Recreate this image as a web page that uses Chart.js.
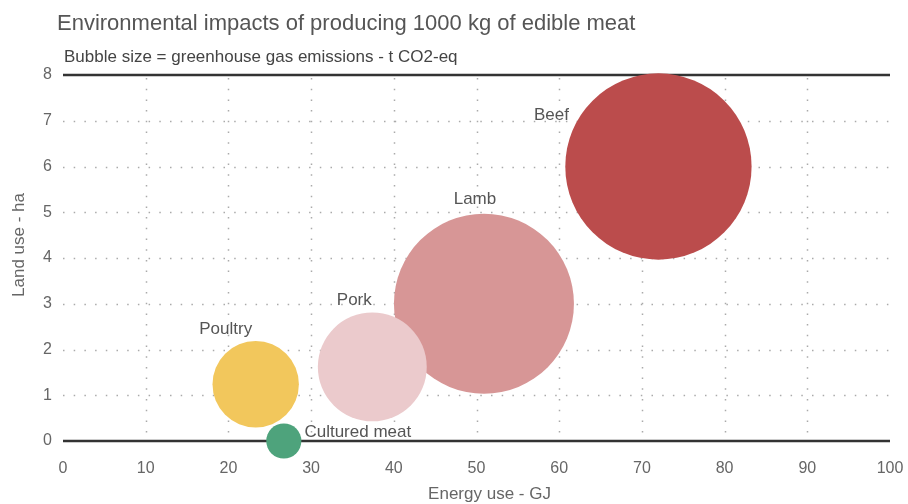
<!DOCTYPE html>
<html>
<head>
<meta charset="utf-8">
<title>Environmental impacts of producing 1000 kg of edible meat</title>
<script src="https://cdn.jsdelivr.net/npm/chart.js@4"></script>
<style>
  html, body { margin: 0; padding: 0; background: #fff; }
  #wrap { width: 908px; height: 504px; position: relative; }
</style>
</head>
<body>
<div id="wrap"><canvas id="chart"></canvas></div>
<script>
// Data
const meats = ['Beef', 'Lamb', 'Pork', 'Poultry', 'Cultured meat'];
const energyUse = [72.0, 50.9, 37.4, 23.3, 26.7];   // GJ
const landUse = [6.0, 3.0, 1.62, 1.24, 0.0];        // ha
const ghgEmissions = [20.7, 20.0, 12.1, 9.6, 3.9];  // t CO2-eq (bubble size)
const xTicks = [0, 10, 20, 30, 40, 50, 60, 70, 80, 90, 100];
const yTicks = [0, 1, 2, 3, 4, 5, 6, 7, 8];

const colors = ['#bb4c4c', '#d79696', '#ebcacc', '#f2c75c', '#4ea37c'];
// label offsets from bubble centre (px)
const labelOffsets = [[-107, -51], [-9, -104], [-18, -67], [-30, -55], [74, -9]];
const radiusPerTonne = 4.5;

const FONT = '"Liberation Sans", Arial, sans-serif';

// Dotted grid and solid frame lines, drawn under the bubbles
const gridPlugin = {
    id: 'dottedGrid',
    beforeDatasetsDraw(chart) {
        const { ctx, chartArea, scales } = chart;
        ctx.save();
        ctx.strokeStyle = '#aaa';
        ctx.lineWidth = 1.5;
        ctx.setLineDash([1.5, 9.2]);
        yTicks.forEach(v => {
            if (v === 0 || v === 8) return;
            const y = Math.round(scales.y.getPixelForValue(v)) + 0.5;
            ctx.beginPath();
            ctx.moveTo(chartArea.left, y);
            ctx.lineTo(chartArea.right, y);
            ctx.stroke();
        });
        xTicks.forEach(v => {
            if (v === 0 || v === 100) return;
            const x = Math.round(scales.x.getPixelForValue(v)) + 0.5;
            ctx.beginPath();
            ctx.moveTo(x, chartArea.top + 3);
            ctx.lineTo(x, chartArea.bottom);
            ctx.stroke();
        });
        ctx.setLineDash([]);
        ctx.strokeStyle = '#333';
        ctx.lineWidth = 2.5;
        [0, 8].forEach(v => {
            const y = scales.y.getPixelForValue(v);
            ctx.beginPath();
            ctx.moveTo(chartArea.left, y);
            ctx.lineTo(chartArea.right, y);
            ctx.stroke();
        });
        ctx.restore();
    }
};

// Titles, axis titles and bubble labels
const textPlugin = {
    id: 'texts',
    afterDatasetsDraw(chart) {
        const { ctx, chartArea } = chart;
        ctx.save();
        ctx.textBaseline = 'middle';

        ctx.fillStyle = '#555';
        ctx.textAlign = 'left';
        ctx.font = '22px ' + FONT;
        ctx.fillText('Environmental impacts of producing 1000 kg of edible meat', 57, 24);
        ctx.fillStyle = '#444';
        ctx.font = '17px ' + FONT;
        ctx.fillText('Bubble size = greenhouse gas emissions - t CO2-eq', 64, 57);

        ctx.fillStyle = '#666';
        ctx.textAlign = 'center';
        ctx.fillText('Energy use - GJ', chartArea.left + chartArea.width / 2 + 13, 494);
        ctx.save();
        ctx.translate(19, chartArea.top + chartArea.height / 2 - 13);
        ctx.rotate(-Math.PI / 2);
        ctx.fillText('Land use - ha', 0, 0);
        ctx.restore();

        ctx.fillStyle = '#555';
        const meta = chart.getDatasetMeta(0);
        meta.data.forEach((pt, i) => {
            ctx.fillText(meats[i], pt.x + labelOffsets[i][0], pt.y + labelOffsets[i][1]);
        });
        ctx.restore();
    }
};

const points = meats.map((m, i) => ({
    x: energyUse[i],
    y: landUse[i],
    r: ghgEmissions[i] * radiusPerTonne
}));

new Chart(document.getElementById('chart'), {
    type: 'bubble',
    data: {
        datasets: [{
            label: 'Meat',
            data: points,
            backgroundColor: colors,
            borderColor: colors,
            borderWidth: 0,
            hoverRadius: 0
        }]
    },
    options: {
        responsive: true,
        maintainAspectRatio: false,
        animation: false,
        events: [],
        clip: false,
        layout: { autoPadding: false, padding: { left: 0, right: 18, top: 75, bottom: 0 } },
        plugins: {
            legend: { display: false },
            tooltip: { enabled: false }
        },
        scales: {
            x: {
                type: 'linear',
                min: 0,
                max: 100,
                afterBuildTicks(scale) { scale.ticks = xTicks.map(v => ({ value: v })); },
                afterFit(scale) {
                    scale.height = 63;
                    scale.paddingLeft = 0;
                    scale.paddingRight = 0;
                },
                grid: { display: false },
                border: { display: false },
                ticks: { color: '#666', padding: 10, font: { family: FONT, size: 16 }, maxRotation: 0 }
            },
            y: {
                type: 'linear',
                min: 0,
                max: 8,
                afterBuildTicks(scale) { scale.ticks = yTicks.map(v => ({ value: v })); },
                afterFit(scale) {
                    scale.width = 63;
                    scale.paddingTop = 0;
                    scale.paddingBottom = 0;
                },
                grid: { display: false },
                border: { display: false },
                ticks: { color: '#666', padding: 3, font: { family: FONT, size: 16 } }
            }
        }
    },
    plugins: [gridPlugin, textPlugin]
});
</script>
</body>
</html>
